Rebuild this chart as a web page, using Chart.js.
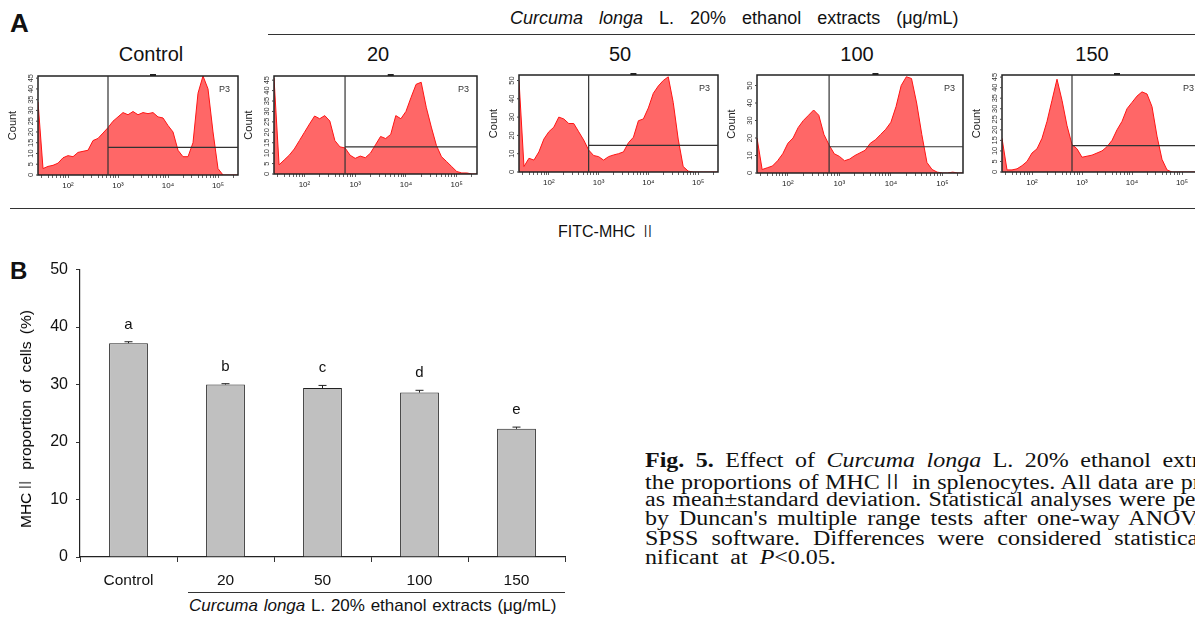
<!DOCTYPE html>
<html>
<head>
<meta charset="utf-8">
<script src="https://cdn.jsdelivr.net/npm/chart.js@4.4.0/dist/chart.umd.min.js"></script>
<style>
  body { margin: 0; width: 1195px; height: 619px; overflow: hidden; background: #fff; position: relative;
         font-family: 'Liberation Sans', Arial, sans-serif; color: #111; }
  .abs { position: absolute; white-space: nowrap; }
  .lbl { position: absolute; width: 120px; text-align: center; font-size: 20px; top: 43px; }
  .rule { position: absolute; height: 1px; background: #333; }
  .cjk { font-family: 'Noto Sans CJK SC', sans-serif; font-weight: 300; }
  canvas { position: absolute; }
  .cap { position: absolute; left: 645px; width: 523px; font-family: 'Liberation Serif', 'Times New Roman', serif;
         font-size: 20px; line-height: 19.5px; white-space: nowrap; text-align: justify; text-align-last: justify;
         transform: scaleX(1.2); transform-origin: 0 0; }
  .cap.last { text-align-last: left; word-spacing: 5px; }
</style>
</head>
<body>
<!-- panel A -->
<div class="abs" style="left:10px;top:8px;font-size:26px;font-weight:bold;">A</div>
<div class="abs" style="left:510px;top:8px;font-size:18px;word-spacing:11px;"><i>Curcuma longa</i> L. 20% ethanol extracts (μg/mL)</div>
<div class="rule" style="left:268px;top:34px;width:927px;"></div>
<div class="lbl" style="left:91px;">Control</div>
<div class="lbl" style="left:318px;">20</div>
<div class="lbl" style="left:560px;">50</div>
<div class="lbl" style="left:797px;">100</div>
<div class="lbl" style="left:1032px;">150</div>

<canvas id="hCtrl" width="234" height="121" style="left:6px;top:74px;"></canvas>
<canvas id="h20" width="237" height="120" style="left:242px;top:74px;"></canvas>
<canvas id="h50" width="233" height="119" style="left:487px;top:73px;"></canvas>
<canvas id="h100" width="240" height="120" style="left:725px;top:73px;"></canvas>
<canvas id="h150" width="234" height="119" style="left:970px;top:73px;"></canvas>

<div class="rule" style="left:10px;top:208px;width:1185px;"></div>
<div class="abs" style="left:558px;top:218px;font-size:16px;">FITC-MHC <span class="cjk">Ⅱ</span></div>

<!-- panel B -->
<div class="abs" style="left:10px;top:257px;font-size:24px;font-weight:bold;">B</div>
<canvas id="barChart" width="570" height="335" style="left:0px;top:252px;"></canvas>
<div class="abs" style="left:24px;top:419px;font-size:15.5px;color:#000;word-spacing:3px;transform:translate(-50%,-50%) rotate(-90deg);">MHC<span class="cjk">Ⅱ</span> proportion of cells (%)</div>
<div class="rule" style="left:188px;top:592px;width:377px;"></div>
<div class="abs" style="left:189px;top:596px;font-size:17px;word-spacing:1px;"><i>Curcuma longa</i> L. 20% ethanol extracts (μg/mL)</div>

<!-- caption -->
<div class="cap" style="top:451px;"><b>Fig. 5.</b> Effect of <i>Curcuma longa</i> L. 20% ethanol extracts on</div>
<div class="cap" style="top:471px;">the proportions of MHC<span class="cjk">Ⅱ</span> in splenocytes. All data are presented</div>
<div class="cap" style="top:490px;">as mean±standard deviation. Statistical analyses were performed</div>
<div class="cap" style="top:509px;">by Duncan's multiple range tests after one-way ANOVA using</div>
<div class="cap" style="top:529px;">SPSS software. Differences were considered statistically sig-</div>
<div class="cap last" style="top:548px;">nificant at <i>P</i>&lt;0.05.</div>

<script>
// ---- panel A: flow cytometry histograms (x in log10 fluorescence units) ----
const bins = [1.4, 1.5, 1.6, 1.7, 1.8, 1.9, 2.0, 2.1, 2.2, 2.3, 2.4, 2.5, 2.6, 2.7, 2.8, 2.9, 3.0, 3.1, 3.2, 3.3, 3.4,
              3.5, 3.6, 3.7, 3.8, 3.9, 4.0, 4.1, 4.2, 4.3, 4.4, 4.5, 4.6, 4.7, 4.8, 4.9, 5.0, 5.1, 5.2, 5.3, 5.4];

const countsControl = [34, 3, 4, 4.5, 5.5, 8, 9, 8.5, 10.5, 11, 11.5, 16, 17, 19.5, 22, 25, 27, 29, 28, 29.5, 28,
                       29, 28.5, 29, 27, 26.5, 23, 20, 11.5, 8.5, 8.5, 15, 38, 46, 40, 20, 3, 0, 0, 0, 0];
const counts20 = [46, 4.4, 6.7, 9, 12, 16, 20, 24, 27.8, 26.5, 28, 25.4, 16, 13, 12.5, 9, 7.5, 8.6, 7.8, 10, 14,
                  18, 17, 19, 28, 26.5, 30, 36.7, 43, 44, 32, 22.5, 13.7, 8.3, 6, 3.6, 1.2, 0.5, 0.5, 0, 0];
const counts50 = [50, 3, 7.5, 6.5, 11, 18, 22, 24.5, 30, 29, 26.5, 26.5, 22, 17.5, 12, 9, 8.4, 6.5, 8.4, 9.3, 10,
                  11, 16, 19, 28, 29, 35, 43, 47, 50, 52, 38, 18, 3, 0.5, 0, 0, 0, 0, 0, 0];
const counts100 = [20, 2, 3, 4, 7, 11, 17, 20, 26, 30, 33, 36, 33, 22, 16, 11, 9.5, 7, 8, 10, 11.5,
                   13, 17, 19, 22, 25, 29, 38, 50, 55, 54, 40, 22, 6, 2, 0.5, 0, 0, 0.5, 0, 0];
const counts150 = [16, 1, 1, 1.5, 3, 5, 9, 11, 16, 24, 34, 44, 34, 22, 13, 11, 7, 7.5, 8, 9, 10,
                   12, 15, 20, 24, 30, 33, 36, 38, 37, 31, 17, 6, 1, 0, 0, 0, 0, 0, 0, 0];

const gateLog = 2.8;                             // vertical gate position (log10)
const markerLevels = [12.8, 13, 14.5, 15, 12.5]; // P3 marker height for each sample
const yMaxes = [46, 47, 53, 56, 46];
const yTicksFine = [0, 5, 10, 15, 20, 25, 30, 35, 40, 45];
const yTicksCoarse = [0, 10, 20, 30, 40, 50];
const majorTicks = [2, 3, 4, 5];
const majorLabels = ['10²', '10³', '10⁴', '10⁵'];

const minorTicks = [];
[1, 2, 3, 4, 5].forEach(n => {
    [2, 3, 4, 5, 6, 7, 8, 9].forEach(k => {
        const v = n + Math.log10(k);
        if (v > 1.4 && v < 5.4) minorTicks.push(v);
    });
});

function histChart(id, counts, yMax, yTicks, marker) {
    const frame = {
        id: 'frame_' + id,
        afterDraw(chart) {
            const { ctx, chartArea: a, scales: { x, y } } = chart;
            ctx.save();
            // box
            ctx.strokeStyle = '#222';
            ctx.lineWidth = 1.5;
            ctx.strokeRect(a.left, a.top, a.right - a.left, a.bottom - a.top);
            // gate + marker
            const gx = x.getPixelForValue(gateLog);
            const my = y.getPixelForValue(marker);
            ctx.lineWidth = 1.2;
            ctx.strokeStyle = '#333';
            ctx.beginPath();
            ctx.moveTo(gx, a.top); ctx.lineTo(gx, a.bottom);
            ctx.moveTo(gx, my); ctx.lineTo(a.right, my);
            ctx.stroke();
            // small marker handle on top
            ctx.fillStyle = '#222';
            ctx.fillRect(x.getPixelForValue(3.7) - 3, a.top - 2, 6, 2);
            // P3 label
            ctx.font = '9px "Liberation Sans", Arial';
            ctx.fillStyle = '#333';
            ctx.textAlign = 'right';
            ctx.textBaseline = 'middle';
            ctx.fillText('P3', a.right - 8, a.top + 14);
            // rotated y tick labels
            ctx.font = '7.5px "Liberation Sans", Arial';
            ctx.textAlign = 'center';
            ctx.textBaseline = 'bottom';
            ctx.strokeStyle = '#444';
            ctx.lineWidth = 1;
            yTicks.forEach(v => {
                const py = y.getPixelForValue(v);
                ctx.beginPath(); ctx.moveTo(a.left - 2, py); ctx.lineTo(a.left, py); ctx.stroke();
                ctx.save();
                ctx.translate(a.left - 3, py);
                ctx.rotate(-Math.PI / 2);
                ctx.fillText(String(v), 0, 0);
                ctx.restore();
            });
            ctx.restore();
        }
    };
    new Chart(document.getElementById(id), {
        type: 'line',
        data: {
            datasets: [{
                data: counts.map((c, i) => ({ x: bins[i], y: c })),
                fill: 'origin',
                backgroundColor: 'rgba(255, 60, 60, 0.78)',
                borderColor: '#ff1414',
                borderWidth: 1,
                pointRadius: 0,
                tension: 0
            }]
        },
        options: {
            responsive: false,
            animation: false,
            layout: { padding: { top: 2, right: 2 } },
            plugins: { legend: { display: false }, tooltip: { enabled: false } },
            scales: {
                x: {
                    type: 'linear', min: 1.4, max: 5.4,
                    afterBuildTicks: s => { s.ticks = majorTicks.concat(minorTicks).sort((p, q) => p - q).map(v => ({ value: v })); },
                    afterFit: s => { s.height = 20; },
                    grid: { drawOnChartArea: false, tickLength: 3, color: '#666' },
                    border: { display: false },
                    ticks: {
                        autoSkip: false, maxRotation: 0, padding: 3, color: '#222',
                        font: { size: 8, family: "'Liberation Sans', Arial" },
                        callback: v => { const k = majorTicks.indexOf(v); return k >= 0 ? majorLabels[k] : ''; }
                    }
                },
                y: {
                    min: 0, max: yMax,
                    afterFit: s => { s.width = 32; },
                    grid: { display: false },
                    border: { display: false },
                    ticks: { display: false },
                    title: { display: true, text: 'Count', color: '#222', padding: 0,
                             font: { size: 11, family: "'Liberation Sans', Arial" } }
                }
            }
        },
        plugins: [frame]
    });
}

histChart('hCtrl', countsControl, yMaxes[0], yTicksFine, markerLevels[0]);
histChart('h20', counts20, yMaxes[1], yTicksFine, markerLevels[1]);
histChart('h50', counts50, yMaxes[2], yTicksCoarse, markerLevels[2]);
histChart('h100', counts100, yMaxes[3], yTicksCoarse, markerLevels[3]);
histChart('h150', counts150, yMaxes[4], yTicksFine, markerLevels[4]);

// ---- panel B: MHC II proportion bar chart ----
const groups = ['Control', '20', '50', '100', '150'];
const mhcMeans = [37.2, 30.0, 29.4, 28.6, 22.3];
const mhcSD = [0.25, 0.15, 0.45, 0.4, 0.3];
const sigLetters = ['a', 'b', 'c', 'd', 'e'];

const errorBars = {
    id: 'errorBars',
    afterDatasetsDraw(chart) {
        const { ctx, scales: { y } } = chart;
        const meta = chart.getDatasetMeta(0);
        ctx.save();
        ctx.strokeStyle = '#222';
        ctx.lineWidth = 1;
        ctx.fillStyle = '#111';
        ctx.font = '15px "Liberation Sans", Arial';
        ctx.textAlign = 'center';
        ctx.textBaseline = 'alphabetic';
        meta.data.forEach((bar, i) => {
            const top = y.getPixelForValue(mhcMeans[i] + mhcSD[i]);
            const base = y.getPixelForValue(mhcMeans[i]);
            ctx.beginPath();
            ctx.moveTo(bar.x, base); ctx.lineTo(bar.x, top);
            ctx.moveTo(bar.x - 4, top); ctx.lineTo(bar.x + 4, top);
            ctx.stroke();
            ctx.fillText(sigLetters[i], bar.x, top - 13);
        });
        ctx.restore();
    }
};

new Chart(document.getElementById('barChart'), {
    type: 'bar',
    data: {
        labels: groups,
        datasets: [{
            data: mhcMeans,
            backgroundColor: '#c0c0c0',
            borderColor: '#222',
            borderWidth: 1,
            barPercentage: 0.4,
            categoryPercentage: 1
        }]
    },
    options: {
        responsive: false,
        animation: false,
        layout: { padding: { top: 0, right: 5 } },
        plugins: { legend: { display: false }, tooltip: { enabled: false } },
        scales: {
            x: {
                afterFit: s => { s.height = 30; },
                grid: { offset: true, drawOnChartArea: false, tickLength: 5, color: '#333' },
                border: { color: '#222', width: 1.2 },
                ticks: { color: '#111', padding: 9, font: { size: 15.5, family: "'Liberation Sans', Arial" } }
            },
            y: {
                min: 0, max: 50,
                afterFit: s => { s.width = 80; },
                grid: { drawOnChartArea: false, tickLength: 4, color: '#333' },
                border: { color: '#222', width: 1.2 },
                ticks: { stepSize: 10, color: '#111', padding: 8, font: { size: 16, family: "'Liberation Sans', Arial" } }
            }
        }
    },
    plugins: [errorBars]
});
</script>
</body>
</html>
